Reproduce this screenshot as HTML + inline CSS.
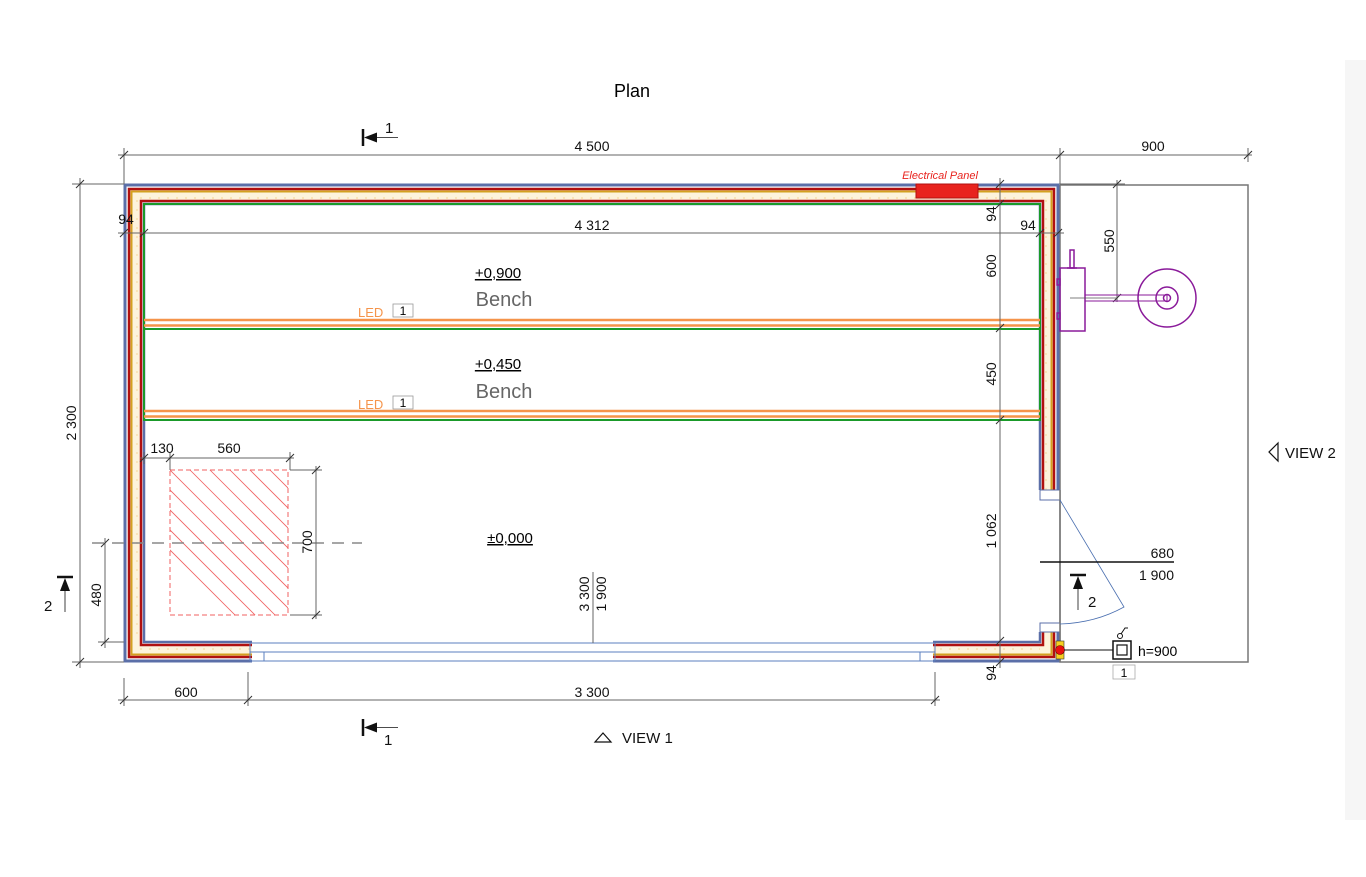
<!DOCTYPE html>
<html><head><meta charset="utf-8"><style>
html,body{margin:0;padding:0;background:#fff}
svg{display:block;font-family:"Liberation Sans",sans-serif}
</style></head><body>
<svg width="1366" height="877" viewBox="0 0 1366 877" xmlns="http://www.w3.org/2000/svg">
<rect x="1345" y="60" width="21" height="760" fill="#f6f6f6"/>
<text x="632" y="97" font-size="18" text-anchor="middle">Plan</text>

<!-- right area -->
<rect x="1060" y="185" width="188" height="477" fill="none" stroke="#777" stroke-width="1.5"/>

<!-- walls -->
<g fill="none" stroke-linejoin="miter">
 <g id="wA">
  <path d="M252,661 L125,661 L125,185 L1058,185 L1058,490" stroke="#5b6fa8" stroke-width="3"/>
  <path d="M252,651.5 L134.5,651.5 L134.5,194.5 L1048.5,194.5 L1048.5,490" stroke="#fdf3dc" stroke-width="12"/>
  <path d="M252,657 L129,657 L129,189 L1054,189 L1054,490" stroke="#b01010" stroke-width="2.5"/>
  <path d="M252,654.5 L131.5,654.5 L131.5,191.5 L1051.5,191.5 L1051.5,490" stroke="#d4a020" stroke-width="2"/>
  <path d="M252,645 L141,645 L141,201 L1043,201 L1043,490" stroke="#b01010" stroke-width="2.5"/>
  <path d="M252,642 L144,642 L144,204 L1040,204 L1040,490" stroke="#5b6fa8" stroke-width="2.5"/>
 </g>
 <path d="M933,661 L1058,661 L1058,632" stroke="#5b6fa8" stroke-width="3"/>
 <path d="M933,651.5 L1048.5,651.5 L1048.5,632" stroke="#fdf3dc" stroke-width="12"/>
 <path d="M933,657 L1054,657 L1054,632" stroke="#b01010" stroke-width="2.5"/>
 <path d="M933,654.5 L1051.5,654.5 L1051.5,632" stroke="#d4a020" stroke-width="2"/>
 <path d="M933,645 L1043,645 L1043,632" stroke="#b01010" stroke-width="2.5"/>
 <path d="M933,642 L1040,642 L1040,632" stroke="#5b6fa8" stroke-width="2.5"/>
</g>
<!-- insulation scallops -->
<path d="M140,196 q4,4 8,0 q4,4 8,0" fill="none"/>
<g stroke="#f0c060" stroke-width="0.7" fill="none" opacity="0.8">
 <path d="M140,198 h900" stroke-dasharray="2 7"/>
 <path d="M137,200 v440" stroke-dasharray="2 7"/>
 <path d="M140,649 h110" stroke-dasharray="2 7"/>
 <path d="M940,649 h100" stroke-dasharray="2 7"/>
 <path d="M1046,200 v290" stroke-dasharray="2 7"/>
</g>
<!-- door jambs -->
<rect x="1040" y="490" width="20" height="10" fill="#fff" stroke="#5b6fa8" stroke-width="1"/>
<rect x="1040" y="623" width="20" height="9" fill="#fff" stroke="#5b6fa8" stroke-width="1"/>
<line x1="1060" y1="490" x2="1060" y2="662" stroke="#777" stroke-width="1.5"/>
<path d="M1060,500 L1124,607 Q1095,623 1060,624" fill="none" stroke="#4a6fb0" stroke-width="0.8"/>

<!-- window -->
<g stroke="#5b7fbf" stroke-width="1" fill="none">
 <line x1="250" y1="643" x2="935" y2="643"/>
 <line x1="250" y1="652" x2="935" y2="652"/>
 <line x1="250" y1="661" x2="935" y2="661"/>
 <line x1="264" y1="652" x2="264" y2="661"/>
 <line x1="920" y1="652" x2="920" y2="661"/>
 <line x1="250" y1="643" x2="250" y2="661"/>
 <line x1="935" y1="643" x2="935" y2="661"/>
</g>

<!-- electrical panel -->
<rect x="916" y="184" width="62" height="14" fill="#e8231e" stroke="#b01010"/>
<text x="940" y="179" font-size="11" font-style="italic" fill="#e8231e" text-anchor="middle">Electrical Panel</text>

<!-- benches -->
<g fill="none">
 <rect x="144" y="204" width="896" height="216" stroke="#1a9a2a" stroke-width="2"/>
 <line x1="144" y1="320" x2="1040" y2="320" stroke="#f5944a" stroke-width="2.5"/>
 <line x1="144" y1="325.5" x2="1040" y2="325.5" stroke="#f5944a" stroke-width="2.5"/>
 <line x1="144" y1="329" x2="1040" y2="329" stroke="#1a9a2a" stroke-width="2"/>
 <line x1="144" y1="411" x2="1040" y2="411" stroke="#f5944a" stroke-width="2.5"/>
 <line x1="144" y1="416.5" x2="1040" y2="416.5" stroke="#f5944a" stroke-width="2.5"/>
 <line x1="144" y1="420" x2="1040" y2="420" stroke="#1a9a2a" stroke-width="2"/>
</g>
<text x="358" y="317" font-size="13" fill="#f5944a">LED</text>
<rect x="393" y="304" width="20" height="13" fill="#fff" stroke="#999" stroke-width="0.8"/>
<text x="403" y="315" font-size="12" text-anchor="middle">1</text>
<text x="358" y="409" font-size="13" fill="#f5944a">LED</text>
<rect x="393" y="396" width="20" height="13" fill="#fff" stroke="#999" stroke-width="0.8"/>
<text x="403" y="407" font-size="12" text-anchor="middle">1</text>

<text x="498" y="278" font-size="15" text-anchor="middle" text-decoration="underline">+0,900</text>
<text x="504" y="306" font-size="20" fill="#666" text-anchor="middle">Bench</text>
<text x="498" y="369" font-size="15" text-anchor="middle" text-decoration="underline">+0,450</text>
<text x="504" y="398" font-size="20" fill="#666" text-anchor="middle">Bench</text>
<text x="510" y="543" font-size="15" text-anchor="middle" text-decoration="underline">±0,000</text>

<!-- hatched area -->
<defs><clipPath id="hc"><rect x="170" y="470" width="118" height="145"/></clipPath></defs>
<g clip-path="url(#hc)" stroke="#f06060" stroke-width="0.8">
 <line x1="50" y1="430" x2="250" y2="630"/><line x1="70" y1="430" x2="270" y2="630"/>
 <line x1="90" y1="430" x2="290" y2="630"/><line x1="110" y1="430" x2="310" y2="630"/>
 <line x1="130" y1="430" x2="330" y2="630"/><line x1="150" y1="430" x2="350" y2="630"/>
 <line x1="170" y1="430" x2="370" y2="630"/><line x1="190" y1="430" x2="390" y2="630"/>
 <line x1="210" y1="430" x2="410" y2="630"/><line x1="230" y1="430" x2="430" y2="630"/>
 <line x1="250" y1="430" x2="450" y2="630"/>
</g>
<rect x="170" y="470" width="118" height="145" fill="none" stroke="#f06060" stroke-width="1" stroke-dasharray="5 3"/>
<line x1="92" y1="543" x2="362" y2="543" stroke="#888" stroke-width="1.5" stroke-dasharray="12 8"/>

<!-- dimensions -->
<g stroke="#666" stroke-width="1" fill="none">
 <line x1="118" y1="155" x2="1252" y2="155"/>
 <line x1="124" y1="148" x2="124" y2="184"/><line x1="1060" y1="148" x2="1060" y2="184"/><line x1="1248" y1="148" x2="1248" y2="162"/>
 <line x1="80" y1="178" x2="80" y2="668"/>
 <line x1="72" y1="184" x2="124" y2="184"/><line x1="72" y1="662" x2="124" y2="662"/>
 <line x1="105" y1="538" x2="105" y2="648"/><line x1="98" y1="642" x2="124" y2="642"/>
 <line x1="118" y1="233" x2="1064" y2="233"/>
 <line x1="1000" y1="178" x2="1000" y2="668"/>
 <line x1="1117" y1="180" x2="1117" y2="302"/><line x1="1060" y1="184" x2="1125" y2="184"/>
 <line x1="140" y1="458" x2="294" y2="458"/>
 <line x1="144" y1="452" x2="144" y2="464"/><line x1="170" y1="452" x2="170" y2="470"/><line x1="290" y1="452" x2="290" y2="470"/>
 <line x1="316" y1="466" x2="316" y2="619"/><line x1="290" y1="470" x2="322" y2="470"/><line x1="290" y1="615" x2="322" y2="615"/>
 <line x1="118" y1="700" x2="940" y2="700"/>
 <line x1="124" y1="678" x2="124" y2="706"/><line x1="248" y1="672" x2="248" y2="706"/><line x1="935" y1="672" x2="935" y2="706"/>
 <line x1="593" y1="572" x2="593" y2="643"/>
</g>
<g stroke="#333" stroke-width="1">
 <path d="M120,159 l8,-8 M1056,159 l8,-8 M1244,159 l8,-8"/>
 <path d="M76,188 l8,-8 M76,666 l8,-8 M101,547 l8,-8 M101,646 l8,-8"/>
 <path d="M120,237 l8,-8 M140,237 l8,-8 M1036,237 l8,-8 M1054,237 l8,-8"/>
 <path d="M996,188 l8,-8 M996,208 l8,-8 M996,332 l8,-8 M996,424 l8,-8 M996,645 l8,-8 M996,666 l8,-8"/>
 <path d="M1113,188 l8,-8 M1113,302 l8,-8"/>
 <path d="M140,462 l8,-8 M166,462 l8,-8 M286,462 l8,-8 M312,474 l8,-8 M312,619 l8,-8"/>
 <path d="M120,704 l8,-8 M244,704 l8,-8 M931,704 l8,-8"/>
</g>
<g font-size="14" fill="#111">
 <text x="592" y="151" text-anchor="middle">4 500</text>
 <text x="1153" y="151" text-anchor="middle">900</text>
 <text x="126" y="224" text-anchor="middle">94</text>
 <text x="592" y="230" text-anchor="middle">4 312</text>
 <text x="1028" y="230" text-anchor="middle">94</text>
 <text x="162" y="453" text-anchor="middle">130</text>
 <text x="229" y="453" text-anchor="middle">560</text>
 <text x="186" y="697" text-anchor="middle">600</text>
 <text x="592" y="697" text-anchor="middle">3 300</text>
 <text transform="translate(76,423) rotate(-90)" text-anchor="middle">2 300</text>
 <text transform="translate(101,595) rotate(-90)" text-anchor="middle">480</text>
 <text transform="translate(312,542) rotate(-90)" text-anchor="middle">700</text>
 <text transform="translate(996,214) rotate(-90)" text-anchor="middle">94</text>
 <text transform="translate(996,266) rotate(-90)" text-anchor="middle">600</text>
 <text transform="translate(996,374) rotate(-90)" text-anchor="middle">450</text>
 <text transform="translate(996,531) rotate(-90)" text-anchor="middle">1 062</text>
 <text transform="translate(996,673) rotate(-90)" text-anchor="middle">94</text>
 <text transform="translate(1114,241) rotate(-90)" text-anchor="middle">550</text>
 <text transform="translate(589,594) rotate(-90)" text-anchor="middle">3 300</text>
 <text transform="translate(606,594) rotate(-90)" text-anchor="middle">1 900</text>
 <text x="1174" y="558" text-anchor="end">680</text>
 <text x="1174" y="580" text-anchor="end">1 900</text>
</g>
<line x1="1040" y1="562" x2="1174" y2="562" stroke="#111" stroke-width="1.5"/>

<!-- section markers -->
<g stroke="#111" fill="#111">
 <line x1="363" y1="129" x2="363" y2="146" stroke-width="2.5"/>
 <path d="M364,137.5 l13,-5 v10 z" stroke="none"/>
 <line x1="377" y1="137.5" x2="398" y2="137.5" stroke-width="0.8"/>
 <line x1="363" y1="719" x2="363" y2="736" stroke-width="2.5"/>
 <path d="M364,727.5 l13,-5 v10 z" stroke="none"/>
 <line x1="377" y1="727.5" x2="398" y2="727.5" stroke-width="0.8"/>
 <line x1="57" y1="577" x2="73" y2="577" stroke-width="2.5"/>
 <path d="M65,578 l-5,13 h10 z" stroke="none"/>
 <line x1="65" y1="590" x2="65" y2="612" stroke-width="0.8"/>
 <line x1="1070" y1="575" x2="1086" y2="575" stroke-width="2.5"/>
 <path d="M1078,576 l-5,13 h10 z" stroke="none"/>
 <line x1="1078" y1="588" x2="1078" y2="610" stroke-width="0.8"/>
</g>
<g font-size="15" fill="#111">
 <text x="385" y="133">1</text>
 <text x="384" y="745">1</text>
 <text x="44" y="611">2</text>
 <text x="1088" y="607">2</text>
 <text x="622" y="743">VIEW 1</text>
 <text x="1285" y="458">VIEW 2</text>
</g>
<path d="M595,742 l8,-9 l8,9 z" fill="none" stroke="#111" stroke-width="1.2"/>
<path d="M1278,443 l-9,9 l9,9 z" fill="none" stroke="#111" stroke-width="1.2"/>

<!-- switch -->
<rect x="1056" y="641" width="8" height="18" fill="#f5d020" stroke="#333" stroke-width="0.6"/>
<circle cx="1060" cy="650" r="4.5" fill="#e81010" stroke="#600" stroke-width="0.6"/>
<line x1="1064" y1="650" x2="1113" y2="650" stroke="#111" stroke-width="1"/>
<rect x="1113" y="641" width="18" height="18" fill="#fff" stroke="#111" stroke-width="1.5"/>
<rect x="1117" y="645" width="10" height="10" fill="#fff" stroke="#111" stroke-width="1.2"/>
<circle cx="1120" cy="636" r="2.5" fill="none" stroke="#111"/>
<path d="M1121,634 l4,-6 h3" fill="none" stroke="#111"/>
<text x="1138" y="656" font-size="14">h=900</text>
<rect x="1113" y="665" width="22" height="14" fill="#fff" stroke="#aaa" stroke-width="0.8"/>
<text x="1124" y="677" font-size="12" text-anchor="middle">1</text>

<!-- purple fixture -->
<g stroke="#8a1a9a" fill="none" stroke-width="1.5">
 <rect x="1060" y="268" width="25" height="63"/>
 <rect x="1070" y="250" width="4" height="18"/>
 <line x1="1067" y1="268" x2="1077" y2="268"/>
 <rect x="1085" y="295" width="82" height="6" stroke-width="1"/>
 <circle cx="1167" cy="298" r="29"/>
 <circle cx="1167" cy="298" r="11"/>
 <circle cx="1167" cy="298" r="3.5"/>
 <rect x="1057" y="279" width="3" height="6"/>
 <rect x="1057" y="313" width="3" height="6"/>
</g>
<line x1="1070" y1="298" x2="1117" y2="298" stroke="#555" stroke-width="0.8"/>
</svg>
</body></html>
